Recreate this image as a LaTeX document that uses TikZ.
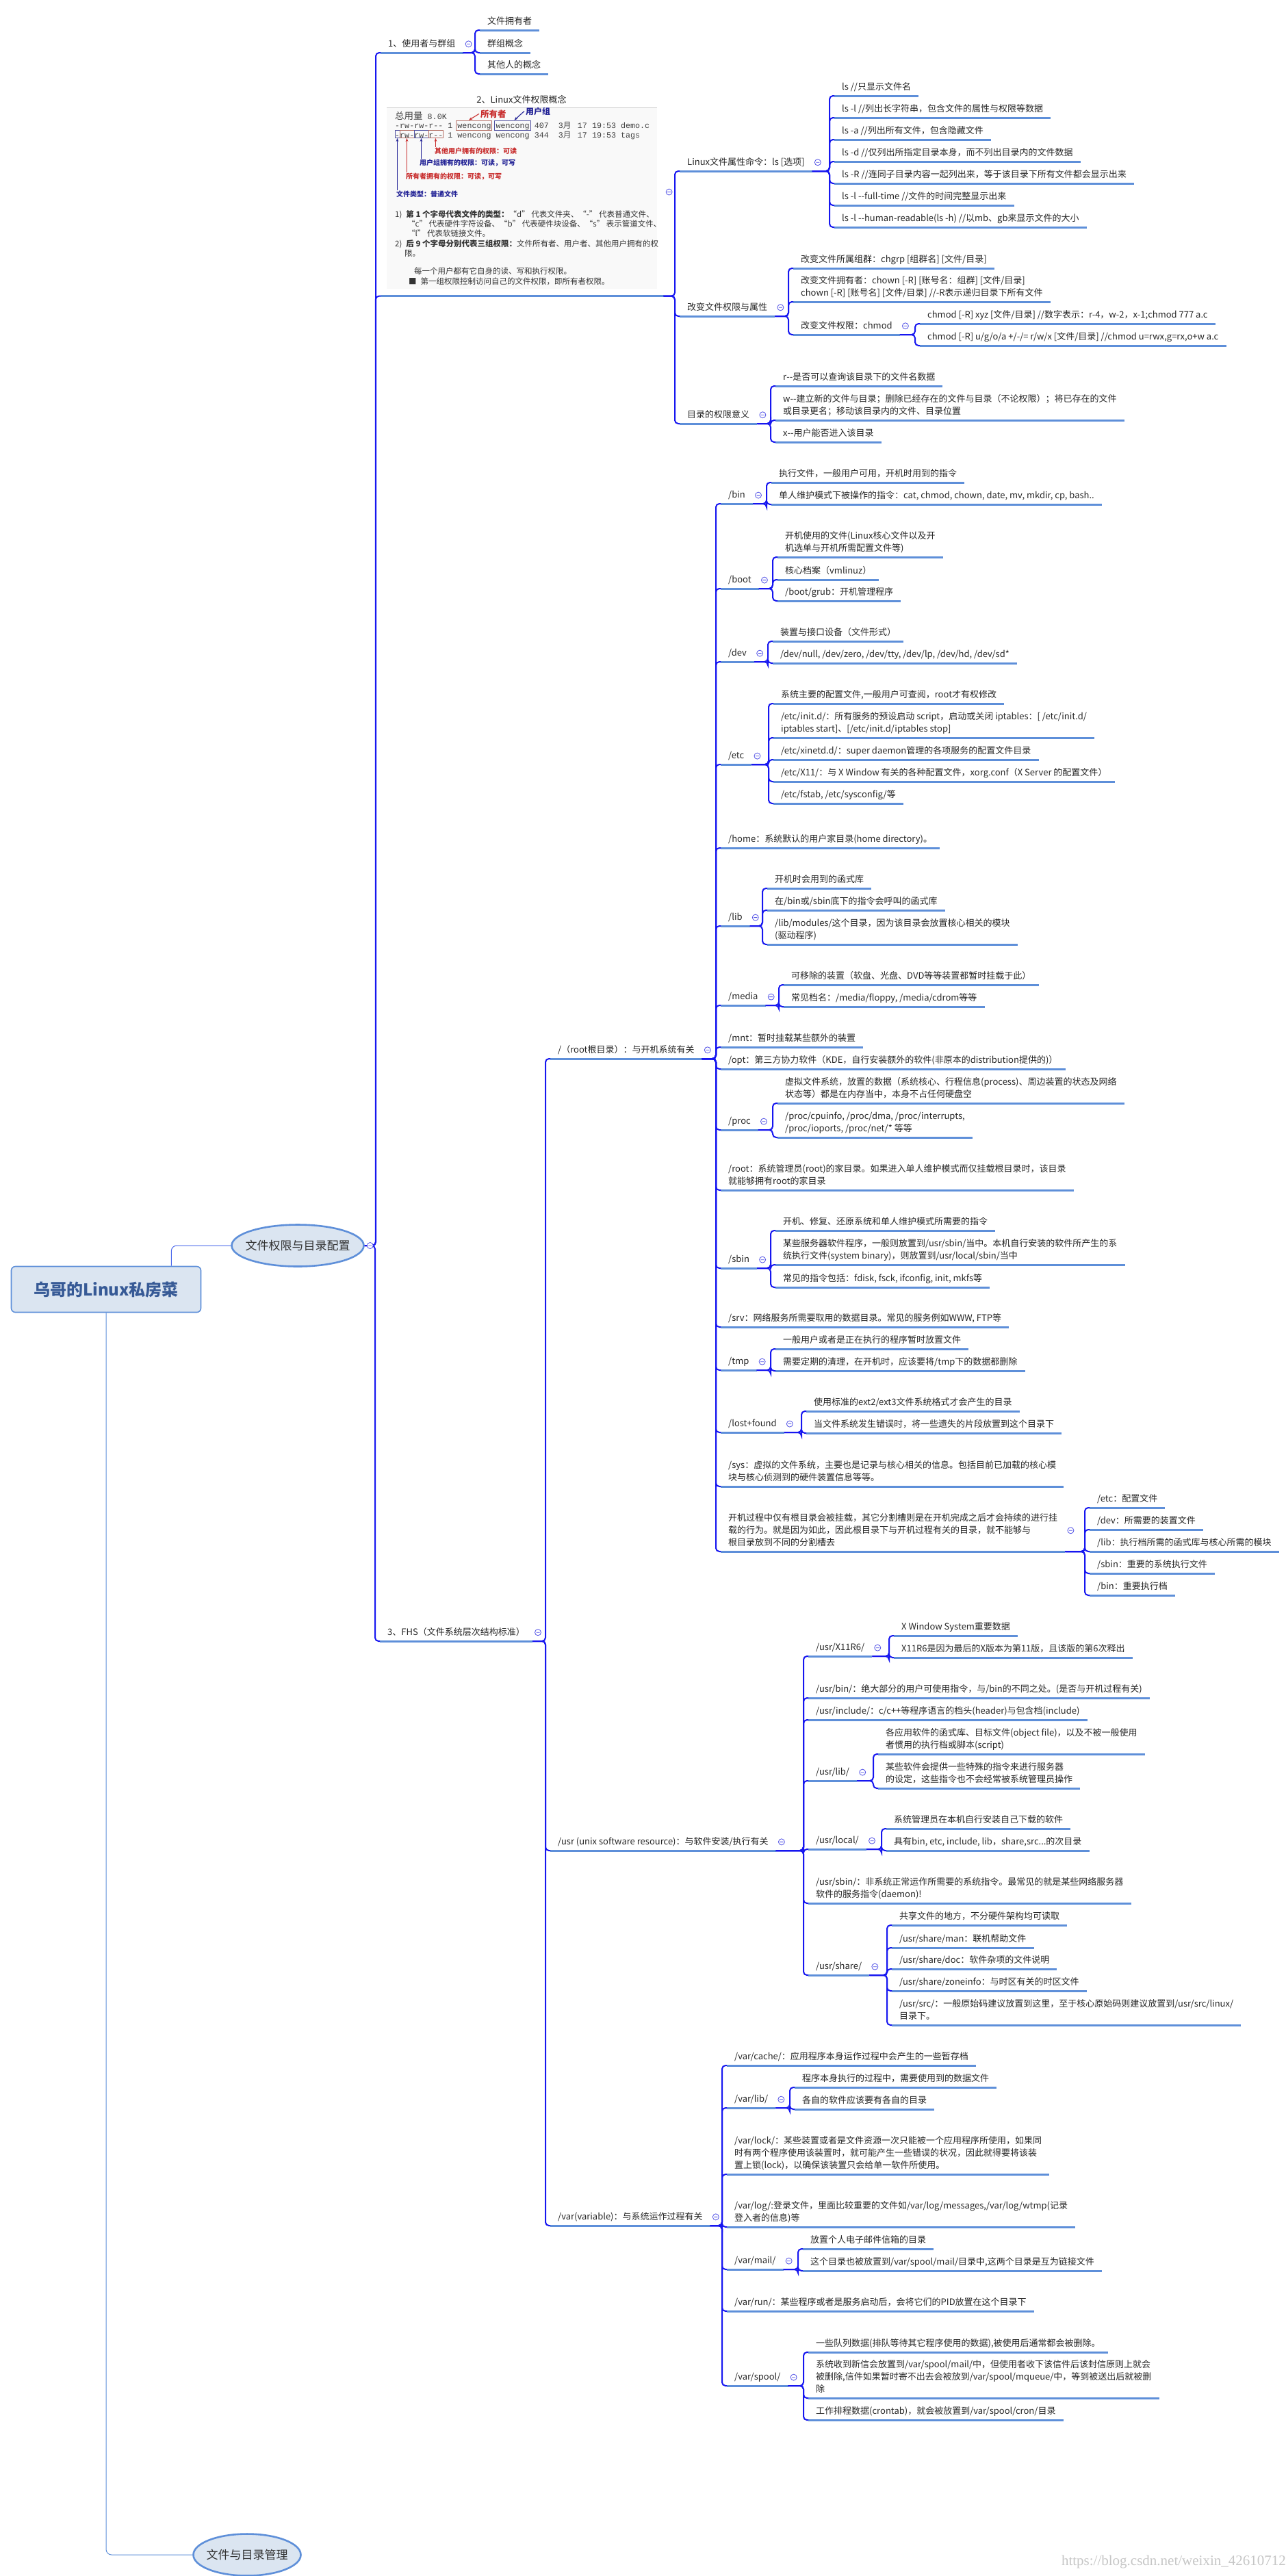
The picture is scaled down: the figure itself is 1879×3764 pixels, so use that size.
\documentclass[tikz,border=0pt]{standalone}
\usepackage{fontspec}
\setmainfont{Noto Sans CJK SC}
\newfontfamily\cjk{Noto Sans CJK SC}
\newfontfamily\shotmono{Liberation Mono}
\newfontfamily\wmfont{Liberation Serif}
\usepackage{xcolor}
\usetikzlibrary{positioning, arrows.meta, shapes.geometric, fit}
\definecolor{ublue}{RGB}{94,143,217}
\definecolor{cblue}{RGB}{22,22,240}
\definecolor{foldc}{RGB}{80,80,230}
\definecolor{lblue}{RGB}{70,100,235}
\definecolor{rootfill}{RGB}{219,229,241}
\definecolor{roottext}{RGB}{55,90,150}
\definecolor{annred}{RGB}{200,45,45}
\definecolor{annblue}{RGB}{35,35,150}
\definecolor{boxred}{RGB}{180,110,100}
\definecolor{boxblue}{RGB}{80,80,160}
\newcommand{\dashes}{\mbox{-}\mbox{-}}
\newcommand{\yue}{\makebox[14pt][l]{\cjk 月}}

\begin{document}
\begin{tikzpicture}[x=1pt, y=-1pt, every node/.style={text=black!85}]
  \tikzstyle{uline} = [draw=ublue, line width=3pt]
  \tikzstyle{topic} = [anchor=south west, inner xsep=11pt, inner ysep=6pt, text depth=2pt, align=left, font=\fontsize{13}{18}\selectfont, append after command={(\tikzlastnode.south west) edge[uline] (\tikzlastnode.south east)}]
  \tikzstyle{branch} = [draw=cblue, line width=2pt, rounded corners=5pt, to path={-| ([xshift=-7pt]\tikztotarget) -- (\tikztotarget)}]
  \tikzstyle{fold} = [draw=foldc, fill=white, line width=0.8pt]
  \tikzstyle{rootbox} = [rectangle, rounded corners=6pt, draw=ublue, line width=1.6pt, fill=rootfill, minimum width=277pt, minimum height=67pt, font=\bfseries\fontsize{24}{24}\selectfont, text=roottext]
  \tikzstyle{oval} = [ellipse, draw=ublue, line width=2.6pt, fill=rootfill, inner sep=0pt, minimum height=61pt, font=\fontsize{17}{17}\selectfont, text=black!80]
  \tikzstyle{rootline} = [draw=lblue, line width=1pt, rounded corners=8pt]
  \tikzstyle{mono} = [anchor=base west, inner sep=0pt, font=\shotmono\fontsize{11.7}{14}\selectfont, text=black!75]
  \tikzstyle{redbox} = [draw=boxred, line width=0.9pt, inner sep=0pt]
  \tikzstyle{bluebox} = [draw=boxblue, line width=0.9pt, inner sep=0pt]
  \tikzstyle{redtxt} = [anchor=base west, inner sep=0pt, text=annred, font=\bfseries\fontsize{10}{12}\selectfont]
  \tikzstyle{bluetxt} = [anchor=base west, inner sep=0pt, text=annblue, font=\bfseries\fontsize{10}{12}\selectfont]
  \tikzstyle{redarr} = [draw=annred, line width=1.1pt, -{Stealth[length=5pt]}]
  \tikzstyle{bluearr} = [draw=annblue, line width=1.1pt, -{Stealth[length=5pt]}]
  \tikzstyle{note} = [anchor=north west, inner sep=0pt, align=left, font=\fontsize{11.5}{14.3}\selectfont, text=black!80]

  \useasboundingbox (0,0) rectangle (1879,3764);
  \fill[white] (0,0) rectangle (1879,3764);

  \node (root) [rootbox] at (155,1884) {乌哥的Linux私房菜};
  \node (cfg) [oval, minimum width=193pt] at (435,1820) {\makebox[0pt]{文件权限与目录配置}};
  \node (mgmt) [oval, minimum width=157pt] at (361,3733) {\makebox[0pt]{文件与目录管理}};

  \node (g1) [topic] at (556,77) {1、使用者与群组};
  \node (g1a) [topic] at (701,44) {文件拥有者};
  \node (g1b) [topic] at (701,77) {群组概念};
  \node (g1c) [topic] at (701,108) {其他人的概念};

  \node (shot) [anchor=north west, minimum width=395pt, minimum height=265pt, inner sep=0pt, fill=gray!5] at (565,157) {};
  \node (g2) [anchor=base, inner sep=0pt, font=\fontsize{13}{18}\selectfont] at (762,150) {2、Linux文件权限概念};
  \node (g2t) [fit=(g2)(shot), inner xsep=9pt, inner ysep=10pt, append after command={(\tikzlastnode.south west) edge[uline] (\tikzlastnode.south east)}] {};
  \draw [gray!40, line width=0.8pt] (shot.north west) -- (shot.north east);
  \node (total) [mono] at (577,174) {{\cjk\fontsize{13.5}{14}\selectfont 总用量} 8.0K};
  \node (row1) [mono] at (577,187) {-rw-rw-r\dashes\ 1 wencong wencong 407\ \ 3\yue\ 17 19:53 demo.c};
  \node (row2) [mono] at (577,201) {-rw-rw-r\dashes\ 1 wencong wencong 344\ \ 3\yue\ 17 19:53 tags};
  \node (own) [redbox, minimum width=52pt, minimum height=14pt] at (692,183) {};
  \node (grp) [bluebox, minimum width=53pt, minimum height=14pt] at (748.5,183) {};
  \node (tb) [bluebox, minimum width=7pt, minimum height=11pt] at (580.5,196) {};
  \node (ub) [redbox, minimum width=21pt, minimum height=11pt] at (594.5,196) {};
  \node (gb) [bluebox, minimum width=21pt, minimum height=11pt] at (615.5,196) {};
  \node (ob) [redbox, minimum width=21pt, minimum height=11pt] at (636.5,196) {};
  \node (ownlab) [redtxt, font=\bfseries\fontsize{12.5}{13}\selectfont] at (702,171) {所有者};
  \node (grplab) [bluetxt, font=\bfseries\fontsize{12}{13}\selectfont] at (768,167) {用户组};
  \node (olab) [redtxt] at (635,224) {其他用户拥有的权限：可读};
  \node (glab) [bluetxt] at (613,241) {用户组拥有的权限：可读，可写};
  \node (ulab) [redtxt] at (593,261) {所有者拥有的权限：可读，可写};
  \node (tlab) [bluetxt] at (579,287) {文件类型：普通文件};
  \draw [redarr] ([xshift=-2pt]ownlab.west) -- ([xshift=-7pt]own.north);
  \draw [bluearr] ([xshift=-2pt]grplab.west) -- ([xshift=3pt]grp.north);
  \draw [bluearr] (tlab.north -| tb.south) -- (tb.south);
  \draw [redarr] (ulab.north -| ub.south) -- (ub.south);
  \draw [bluearr] (glab.north -| gb.south) -- (gb.south);
  \draw [redarr] (olab.north -| ob.south) -- (ob.south);
  \node (note1) [note] at (577,307) {1)\hspace*{6pt}\textbf{第 1 个字母代表文件的类型：}“d” 代表文件夹、“-” 代表普通文件、\\\hspace*{18pt}“c” 代表硬件字符设备、“b” 代表硬件块设备、“s” 表示管道文件、\\\hspace*{18pt}“l” 代表软链接文件。\\2)\hspace*{6pt}\textbf{后 9 个字母分别代表三组权限：}文件所有者、用户者、其他用户拥有的权\\\hspace*{14pt}限。};
  \node (note2) [note] at (577,391) {\hspace*{28pt}每一个用户都有它自身的读、写和执行权限。\\\hspace*{20pt}■\hspace*{6pt}第一组权限控制访问自己的文件权限，即所有者权限。};

  \node (attr) [topic] at (993,250) {Linux文件属性命令：ls [选项]};
  \node (ls1) [topic] at (1219,140) {ls //只显示文件名};
  \node (ls2) [topic] at (1219,172) {ls -l //列出长字符串，包含文件的属性与权限等数据};
  \node (ls3) [topic] at (1219,204) {ls -a //列出所有文件，包含隐藏文件};
  \node (ls4) [topic] at (1219,236) {ls -d //仅列出所指定目录本身，而不列出目录内的文件数据};
  \node (ls5) [topic] at (1219,268) {ls -R //连同子目录内容一起列出来，等于该目录下所有文件都会显示出来};
  \node (ls6) [topic] at (1219,300) {ls -l \dashes full-time //文件的时间完整显示出来};
  \node (ls7) [topic] at (1219,332) {ls -l \dashes human-readable(ls -h) //以mb、gb来显示文件的大小};
  \node (chg) [topic] at (993,462) {改变文件权限与属性};
  \node (chg1) [topic] at (1159,392) {改变文件所属组群：chgrp [组群名] [文件/目录]};
  \node (chg2) [topic] at (1159,441) {改变文件拥有者：chown [-R] [账号名：组群] [文件/目录]\\chown [-R] [账号名] [文件/目录] //-R表示递归目录下所有文件};
  \node (chg3) [topic] at (1159,489) {改变文件权限：chmod};
  \node (chm1) [topic] at (1344,473) {chmod [-R] xyz [文件/目录] //数字表示：r-4，w-2，x-1;chmod 777 a.c};
  \node (chm2) [topic] at (1344,505) {chmod [-R] u/g/o/a +/-/= r/w/x [文件/目录] //chmod u=rwx,g=rx,o+w a.c};
  \node (dirp) [topic] at (993,619) {目录的权限意义};
  \node (dirp1) [topic] at (1133,564) {r\dashes 是否可以查询该目录下的文件名数据};
  \node (dirp2) [topic] at (1133,614) {w\dashes 建立新的文件与目录；删除已经存在的文件与目录（不论权限）；将已存在的文件\\或目录更名；移动该目录内的文件、目录位置};
  \node (dirp3) [topic] at (1133,646) {x\dashes 用户能否进入该目录};

  \node (g3) [topic] at (555,2398) {3、FHS（文件系统层次结构标准）};
  \node (rootdir) [topic] at (804,1547) {/（root根目录）：与开机系统有关};
  \node (bin) [topic] at (1053,736) {/bin};
  \node (bin1) [topic] at (1127,705) {执行文件，一般用户可用，开机时用到的指令};
  \node (bin2) [topic] at (1127,737) {单人维护模式下被操作的指令：cat, chmod, chown, date, mv, mkdir, cp, bash..};
  \node (boot) [topic] at (1053,860) {/boot};
  \node (boot1) [topic] at (1136,814) {开机使用的文件(Linux核心文件以及开\\机选单与开机所需配置文件等)};
  \node (boot2) [topic] at (1136,847) {核心档案（vmlinuz）};
  \node (boot3) [topic] at (1136,878) {/boot/grub：开机管理程序};
  \node (dev) [topic] at (1053,967) {/dev};
  \node (dev1) [topic] at (1129,937) {装置与接口设备（文件形式）};
  \node (dev2) [topic] at (1129,969) {/dev/null, /dev/zero, /dev/tty, /dev/lp, /dev/hd, /dev/sd*};
  \node (etc) [topic] at (1053,1117) {/etc};
  \node (etc1) [topic] at (1130,1028) {系统主要的配置文件,一般用户可查阅，root才有权修改};
  \node (etc2) [topic] at (1130,1078) {/etc/init.d/：所有服务的预设启动 script，启动或关闭 iptables：[ /etc/init.d/\\iptables start]、[/etc/init.d/iptables stop]};
  \node (etc3) [topic] at (1130,1110) {/etc/xinetd.d/：super daemon管理的各项服务的配置文件目录};
  \node (etc4) [topic] at (1130,1142) {/etc/X11/：与 X Window 有关的各种配置文件，xorg.conf（X Server 的配置文件）};
  \node (etc5) [topic] at (1130,1174) {/etc/fstab, /etc/sysconfig/等};
  \node (home) [topic] at (1053,1239) {/home：系统默认的用户家目录(home directory)。};
  \node (lib) [topic] at (1053,1353) {/lib};
  \node (lib1) [topic] at (1121,1298) {开机时会用到的函式库};
  \node (lib2) [topic] at (1121,1330) {在/bin或/sbin底下的指令会呼叫的函式库};
  \node (lib3) [topic] at (1121,1380) {/lib/modules/这个目录，因为该目录会放置核心相关的模块\\(驱动程序)};
  \node (media) [topic] at (1053,1469) {/media};
  \node (media1) [topic] at (1145,1439) {可移除的装置（软盘、光盘、DVD等等装置都暂时挂载于此）};
  \node (media2) [topic] at (1145,1471) {常见档名：/media/floppy, /media/cdrom等等};
  \node (mnt) [topic] at (1053,1530) {/mnt：暂时挂载某些额外的装置};
  \node (opt) [topic] at (1053,1562) {/opt：第三方协力软件（KDE，自行安装额外的软件(非原本的distribution提供的)）};
  \node (proc) [topic] at (1053,1651) {/proc};
  \node (proc1) [topic] at (1136,1612) {虚拟文件系统，放置的数据（系统核心、行程信息(process)、周边装置的状态及网络\\状态等）都是在内存当中，本身不占任何硬盘空};
  \node (proc2) [topic] at (1136,1662) {/proc/cpuinfo, /proc/dma, /proc/interrupts,\\/proc/ioports, /proc/net/* 等等};
  \node (rootd) [topic] at (1053,1739) {/root：系统管理员(root)的家目录。如果进入单人维护模式而仅挂载根目录时，该目录\\就能够拥有root的家目录};
  \node (sbin) [topic] at (1053,1853) {/sbin};
  \node (sbin1) [topic] at (1133,1798) {开机、修复、还原系统和单人维护模式所需要的指令};
  \node (sbin2) [topic] at (1133,1848) {某些服务器软件程序，一般则放置到/usr/sbin/当中。本机自行安装的软件所产生的系\\统执行文件(system binary)，则放置到/usr/local/sbin/当中};
  \node (sbin3) [topic] at (1133,1881) {常见的指令包括：fdisk, fsck, ifconfig, init, mkfs等};
  \node (srv) [topic] at (1053,1939) {/srv：网络服务所需要取用的数据目录。常见的服务例如WWW, FTP等};
  \node (tmp) [topic] at (1053,2002) {/tmp};
  \node (tmp1) [topic] at (1133,1971) {一般用户或者是正在执行的程序暂时放置文件};
  \node (tmp2) [topic] at (1133,2003) {需要定期的清理，在开机时，应该要将/tmp下的数据都删除};
  \node (lost) [topic] at (1053,2093) {/lost+found};
  \node (lost1) [topic] at (1178,2062) {使用标准的ext2/ext3文件系统格式才会产生的目录};
  \node (lost2) [topic] at (1178,2094) {当文件系统发生错误时，将一些遗失的片段放置到这个目录下};
  \node (sys) [topic] at (1053,2172) {/sys：虚拟的文件系统，主要也是记录与核心相关的信息。包括目前已加载的核心模\\块与核心侦测到的硬件装置信息等等。};
  \node (bootp) [topic] at (1053,2267) {开机过程中仅有根目录会被挂载，其它分割槽则是在开机完成之后才会持续的进行挂\\载的行为。就是因为如此，因此根目录下与开机过程有关的目录，就不能够与\\根目录放到不同的分割槽去};
  \node (bp1) [topic] at (1592,2203) {/etc：配置文件};
  \node (bp2) [topic] at (1592,2235) {/dev：所需要的装置文件};
  \node (bp3) [topic] at (1592,2267) {/lib：执行档所需的函式库与核心所需的模块};
  \node (bp4) [topic] at (1592,2299) {/sbin：重要的系统执行文件};
  \node (bp5) [topic] at (1592,2331) {/bin：重要执行档};

  \node (usr) [topic] at (804,2704) {/usr (unix software resource)：与软件安装/执行有关};
  \node (x11) [topic] at (1181,2420) {/usr/X11R6/};
  \node (x11a) [topic] at (1306,2390) {X Window System重要数据};
  \node (x11b) [topic] at (1306,2422) {X11R6是因为最后的X版本为第11版，且该版的第6次释出};
  \node (ubin) [topic] at (1181,2481) {/usr/bin/：绝大部分的用户可使用指令，与/bin的不同之处。(是否与开机过程有关)};
  \node (uinc) [topic] at (1181,2513) {/usr/include/：c/c++等程序语言的档头(header)与包含档(include)};
  \node (ulib) [topic] at (1181,2602) {/usr/lib/};
  \node (ulib1) [topic] at (1283,2563) {各应用软件的函式库、目标文件(object file)，以及不被一般使用\\者惯用的执行档或脚本(script)};
  \node (ulib2) [topic] at (1283,2613) {某些软件会提供一些特殊的指令来进行服务器\\的设定，这些指令也不会经常被系统管理员操作};
  \node (ulocal) [topic] at (1181,2702) {/usr/local/};
  \node (ulocal1) [topic] at (1295,2672) {系统管理员在本机自行安装自己下载的软件};
  \node (ulocal2) [topic] at (1295,2704) {具有bin, etc, include, lib，share,src...的次目录};
  \node (usbin) [topic] at (1181,2781) {/usr/sbin/：非系统正常运作所需要的系统指令。最常见的就是某些网络服务器\\软件的服务指令(daemon)!};
  \node (ushare) [topic] at (1181,2886) {/usr/share/};
  \node (ushare1) [topic] at (1303,2813) {共享文件的地方，不分硬件架构均可读取};
  \node (ushare2) [topic] at (1303,2846) {/usr/share/man：联机帮助文件};
  \node (ushare3) [topic] at (1303,2877) {/usr/share/doc：软件杂项的文件说明};
  \node (ushare4) [topic] at (1303,2909) {/usr/share/zoneinfo：与时区有关的时区文件};
  \node (ushare5) [topic] at (1303,2959) {/usr/src/：一般原始码建议放置到这里，至于核心原始码则建议放置到/usr/src/linux/\\目录下。};

  \node (var) [topic] at (804,3252) {/var(variable)：与系统运作过程有关};
  \node (vcache) [topic] at (1062,3018) {/var/cache/：应用程序本身运作过程中会产生的一些暂存档};
  \node (vlib) [topic] at (1062,3080) {/var/lib/};
  \node (vlib1) [topic] at (1161,3050) {程序本身执行的过程中，需要使用到的数据文件};
  \node (vlib2) [topic] at (1161,3082) {各自的软件应该要有各自的目录};
  \node (vlock) [topic] at (1062,3177) {/var/lock/：某些装置或者是文件资源一次只能被一个应用程序所使用，如果同\\时有两个程序使用该装置时，就可能产生一些错误的状况，因此就得要将该装\\置上锁(lock)，以确保该装置只会给单一软件所使用。};
  \node (vlog) [topic] at (1062,3254) {/var/log/:登录文件，里面比较重要的文件如/var/log/messages,/var/log/wtmp(记录\\登入者的信息)等};
  \node (vmail) [topic] at (1062,3316) {/var/mail/};
  \node (vmail1) [topic] at (1173,3286) {放置个人电子邮件信箱的目录};
  \node (vmail2) [topic] at (1173,3318) {这个目录也被放置到/var/spool/mail/目录中,这两个目录是互为链接文件};
  \node (vrun) [topic] at (1062,3377) {/var/run/：某些程序或者是服务启动后，会将它们的PID放置在这个目录下};
  \node (vspool) [topic] at (1062,3486) {/var/spool/};
  \node (vs1) [topic] at (1181,3437) {一些队列数据(排队等待其它程序使用的数据),被使用后通常都会被删除。};
  \node (vs2) [topic] at (1181,3504) {系统收到新信会放置到/var/spool/mail/中，但使用者收下该信件后该封信原则上就会\\被删除,信件如果暂时寄不出去会被放到/var/spool/mqueue/中，等到被送出后就被删\\除};
  \node (vs3) [topic] at (1181,3536) {工作排程数据(crontab)，就会被放置到/var/spool/cron/目录};

  \node (wm) [anchor=east, inner sep=0pt, font=\wmfont\fontsize{21}{21}\selectfont, text=gray!45] at (1879,3743) {https://blog.csdn.net/weixin\_42610712};

  \draw [rootline] ([xshift=-44pt]root.north east) |- (cfg.west);
  \draw [rootline, draw=ublue] (root.south) |- (mgmt.west);

  \draw [branch] (cfg.east) to (g1.south west);
  \draw [branch] (cfg.east) to (g2t.south west);
  \draw [branch] (cfg.east) to (g3.south west);
  \draw [branch] (g1.south east) to (g1a.south west);
  \draw [branch] (g1.south east) to (g1b.south west);
  \draw [branch] (g1.south east) to (g1c.south west);
  \draw [branch] (g2t.south east) to (attr.south west);
  \draw [branch] (g2t.south east) to (chg.south west);
  \draw [branch] (g2t.south east) to (dirp.south west);
  \draw [branch] (attr.south east) to (ls1.south west);
  \draw [branch] (attr.south east) to (ls2.south west);
  \draw [branch] (attr.south east) to (ls3.south west);
  \draw [branch] (attr.south east) to (ls4.south west);
  \draw [branch] (attr.south east) to (ls5.south west);
  \draw [branch] (attr.south east) to (ls6.south west);
  \draw [branch] (attr.south east) to (ls7.south west);
  \draw [branch] (chg.south east) to (chg1.south west);
  \draw [branch] (chg.south east) to (chg2.south west);
  \draw [branch] (chg.south east) to (chg3.south west);
  \draw [branch] (chg3.south east) to (chm1.south west);
  \draw [branch] (chg3.south east) to (chm2.south west);
  \draw [branch] (dirp.south east) to (dirp1.south west);
  \draw [branch] (dirp.south east) to (dirp2.south west);
  \draw [branch] (dirp.south east) to (dirp3.south west);

  \draw [branch] (g3.south east) to (rootdir.south west);
  \draw [branch] (g3.south east) to (usr.south west);
  \draw [branch] (g3.south east) to (var.south west);
  \draw [branch] (rootdir.south east) to (bin.south west);
  \draw [branch] (rootdir.south east) to (boot.south west);
  \draw [branch] (rootdir.south east) to (dev.south west);
  \draw [branch] (rootdir.south east) to (etc.south west);
  \draw [branch] (rootdir.south east) to (home.south west);
  \draw [branch] (rootdir.south east) to (lib.south west);
  \draw [branch] (rootdir.south east) to (media.south west);
  \draw [branch] (rootdir.south east) to (mnt.south west);
  \draw [branch] (rootdir.south east) to (opt.south west);
  \draw [branch] (rootdir.south east) to (proc.south west);
  \draw [branch] (rootdir.south east) to (rootd.south west);
  \draw [branch] (rootdir.south east) to (sbin.south west);
  \draw [branch] (rootdir.south east) to (srv.south west);
  \draw [branch] (rootdir.south east) to (tmp.south west);
  \draw [branch] (rootdir.south east) to (lost.south west);
  \draw [branch] (rootdir.south east) to (sys.south west);
  \draw [branch] (rootdir.south east) to (bootp.south west);
  \draw [branch] (bin.south east) to (bin1.south west);
  \draw [branch] (bin.south east) to (bin2.south west);
  \draw [branch] (boot.south east) to (boot1.south west);
  \draw [branch] (boot.south east) to (boot2.south west);
  \draw [branch] (boot.south east) to (boot3.south west);
  \draw [branch] (dev.south east) to (dev1.south west);
  \draw [branch] (dev.south east) to (dev2.south west);
  \draw [branch] (etc.south east) to (etc1.south west);
  \draw [branch] (etc.south east) to (etc2.south west);
  \draw [branch] (etc.south east) to (etc3.south west);
  \draw [branch] (etc.south east) to (etc4.south west);
  \draw [branch] (etc.south east) to (etc5.south west);
  \draw [branch] (lib.south east) to (lib1.south west);
  \draw [branch] (lib.south east) to (lib2.south west);
  \draw [branch] (lib.south east) to (lib3.south west);
  \draw [branch] (media.south east) to (media1.south west);
  \draw [branch] (media.south east) to (media2.south west);
  \draw [branch] (proc.south east) to (proc1.south west);
  \draw [branch] (proc.south east) to (proc2.south west);
  \draw [branch] (sbin.south east) to (sbin1.south west);
  \draw [branch] (sbin.south east) to (sbin2.south west);
  \draw [branch] (sbin.south east) to (sbin3.south west);
  \draw [branch] (tmp.south east) to (tmp1.south west);
  \draw [branch] (tmp.south east) to (tmp2.south west);
  \draw [branch] (lost.south east) to (lost1.south west);
  \draw [branch] (lost.south east) to (lost2.south west);
  \draw [branch] (bootp.south east) to (bp1.south west);
  \draw [branch] (bootp.south east) to (bp2.south west);
  \draw [branch] (bootp.south east) to (bp3.south west);
  \draw [branch] (bootp.south east) to (bp4.south west);
  \draw [branch] (bootp.south east) to (bp5.south west);

  \draw [branch] (usr.south east) to (x11.south west);
  \draw [branch] (usr.south east) to (ubin.south west);
  \draw [branch] (usr.south east) to (uinc.south west);
  \draw [branch] (usr.south east) to (ulib.south west);
  \draw [branch] (usr.south east) to (ulocal.south west);
  \draw [branch] (usr.south east) to (usbin.south west);
  \draw [branch] (usr.south east) to (ushare.south west);
  \draw [branch] (x11.south east) to (x11a.south west);
  \draw [branch] (x11.south east) to (x11b.south west);
  \draw [branch] (ulib.south east) to (ulib1.south west);
  \draw [branch] (ulib.south east) to (ulib2.south west);
  \draw [branch] (ulocal.south east) to (ulocal1.south west);
  \draw [branch] (ulocal.south east) to (ulocal2.south west);
  \draw [branch] (ushare.south east) to (ushare1.south west);
  \draw [branch] (ushare.south east) to (ushare2.south west);
  \draw [branch] (ushare.south east) to (ushare3.south west);
  \draw [branch] (ushare.south east) to (ushare4.south west);
  \draw [branch] (ushare.south east) to (ushare5.south west);

  \draw [branch] (var.south east) to (vcache.south west);
  \draw [branch] (var.south east) to (vlib.south west);
  \draw [branch] (var.south east) to (vlock.south west);
  \draw [branch] (var.south east) to (vlog.south west);
  \draw [branch] (var.south east) to (vmail.south west);
  \draw [branch] (var.south east) to (vrun.south west);
  \draw [branch] (var.south east) to (vspool.south west);
  \draw [branch] (vlib.south east) to (vlib1.south west);
  \draw [branch] (vlib.south east) to (vlib2.south west);
  \draw [branch] (vmail.south east) to (vmail1.south west);
  \draw [branch] (vmail.south east) to (vmail2.south west);
  \draw [branch] (vspool.south east) to (vs1.south west);
  \draw [branch] (vspool.south east) to (vs2.south west);
  \draw [branch] (vspool.south east) to (vs3.south west);

  \foreach \p in {cfg,g1,g2t,attr,chg,chg3,dirp,g3,rootdir,bin,boot,dev,etc,lib,media,proc,sbin,tmp,lost,bootp,usr,x11,ulib,ulocal,ushare,var,vlib,vmail,vspool}
    \draw [fold] ([xshift=8pt]\p.east) circle (4.5pt) ++(-2.5pt,0) -- ++(5pt,0);
\end{tikzpicture}
\end{document}
